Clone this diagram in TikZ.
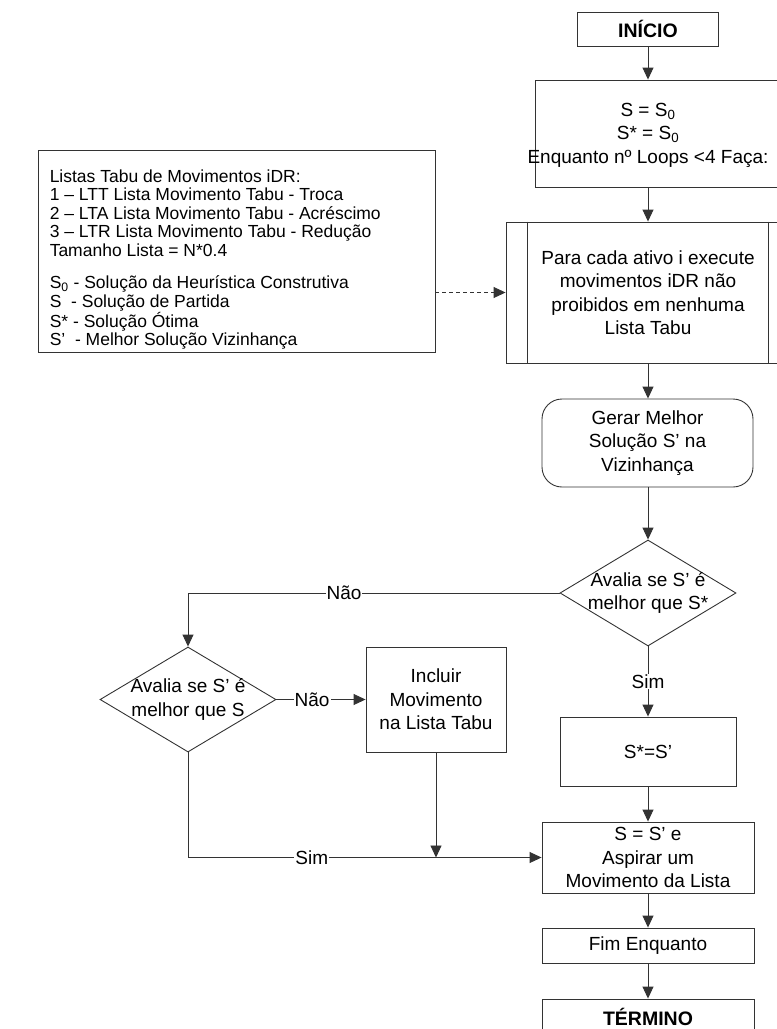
\documentclass[tikz,border=0pt]{standalone}
\usepackage{fontspec}
\setmainfont{Liberation Sans}
\usetikzlibrary{shapes.geometric,arrows.meta}

\tikzset{%
		every block/.style={
			rectangle,
			draw=black!80,
			line width=0.9pt,
			align=center,
			inner sep=2pt
		},
		block terminal/.style={
			font=\fontsize{19.5}{23.5}\selectfont\bfseries
		},
		block decision/.style={
			diamond,
			inner sep=0pt
		},
		every flow/.style={
			draw=black!80,
			line width=0.9pt,
			->
		},
		flow label/.style={
			fill=white,
			inner sep=1pt
		},
	}

\begin{document}
\begin{tikzpicture}[x=1pt, y=-1pt, >={Triangle[length=12pt,width=11pt]},
		font=\fontsize{19}{23.5}\selectfont]
			\useasboundingbox (0,0) rectangle (777,1029);
			\clip (0,0) rectangle (777,1029);
			
			% legend box
			\node [every block, minimum width=397, minimum height=202] (legenda) at (236.5,251) {};
			\node [align=left, anchor=north west, inner sep=0pt,
				font=\fontsize{17.5}{18.5}\selectfont] (legenda text) at ([xshift=12, yshift=-20]legenda.north west) {%
				Listas Tabu de Movimentos iDR:\\
				1 – LTT Lista Movimento Tabu - Troca\\
				2 – LTA Lista Movimento Tabu - Acréscimo\\
				3 – LTR Lista Movimento Tabu - Redução\\
				Tamanho Lista = N*0.4\\[14pt]
				S\textsubscript{0} - Solução da Heurística Construtiva\\
				S\ \ - Solução de Partida\\
				S* - Solução Ótima\\
				S’\ \ - Melhor Solução Vizinhança};
			
			% main column
			\node [every block, block terminal, minimum width=141, minimum height=34] (inicio) at (648,29) {INÍCIO};
			
			\node [every block, minimum width=255, minimum height=107] (init) at (662.5,133.5) {};
			\node [align=center] (init text) at (648,135) {S = S\textsubscript{0}\\S* = S\textsubscript{0}\\Enquanto nº Loops <4 Faça:};
			
			\node [every block, minimum width=284, minimum height=141] (tabu) at (648,292.5)
				{Para cada ativo i execute\\movimentos iDR não\\proibidos em nenhuma\\Lista Tabu};
			\draw [every block] ([xshift=22]tabu.north west) -- ([xshift=22]tabu.south west);
			\draw [every block] ([xshift=-22]tabu.north east) -- ([xshift=-22]tabu.south east);
			
			\node [every block, rounded corners=20, minimum width=211, minimum height=88] (gerar) at (647.5,443)
				{Gerar Melhor\\Solução S’ na\\Vizinhança};
			
			\node [every block, block decision, minimum width=176, minimum height=106] (eval1) at (648,593) {};
			\node [align=center] (eval1 text) at (eval1) {Avalia se S’ é\\melhor que S*};
			
			\node [every block, minimum width=176, minimum height=69] (best) at (648,751.5) {S*=S’};
			
			\node [every block, minimum width=212, minimum height=71] (aspirar) at (648,857.5)
				{S = S’ e\\Aspirar um\\Movimento da Lista};
			
			\node [every block, minimum width=212, minimum height=35] (fim) at (648,945.5) {Fim Enquanto};
			
			\node [every block, block terminal, minimum width=212, minimum height=36] (termino) at (648,1017) {TÉRMINO};
			
			% left branch
			\node [every block, block decision, minimum width=176, minimum height=105] (eval2) at (188,699.5) {};
			\node [align=center] (eval2 text) at (eval2) {Avalia se S’ é\\melhor que S};
			
			\node [every block, minimum width=140, minimum height=105] (incluir) at (436,699.5)
				{Incluir\\Movimento\\na Lista Tabu};
			
			\coordinate (juncao) at (incluir.south |- aspirar.west);
			
			% Draw arrows down the main column
			\foreach \a/\b in {inicio/init, init/tabu, tabu/gerar, gerar/eval1, best/aspirar, aspirar/fim, fim/termino}
			\draw [every flow] (\a.south -| inicio) -- (\b.north -| inicio);
			
			% Draw decision arrows
			\draw [every flow] (eval1.west) -| (eval2.north) node [flow label, pos=0.29] {Não};
			\draw [every flow] (eval1.south) -- (best.north) node [flow label, midway] {Sim};
			\draw [every flow] (eval2.east) -- (incluir.west) node [flow label, pos=0.4] {Não};
			\draw [every flow] (eval2.south) |- (aspirar.west) node [flow label, pos=0.675] {Sim};
			\draw [every flow] (incluir.south) -- (juncao);
			
			% legend link
			\draw [every flow, dash pattern=on 4pt off 3pt] (legenda.east |- tabu.west) -- (tabu.west);
\end{tikzpicture}
\end{document}
